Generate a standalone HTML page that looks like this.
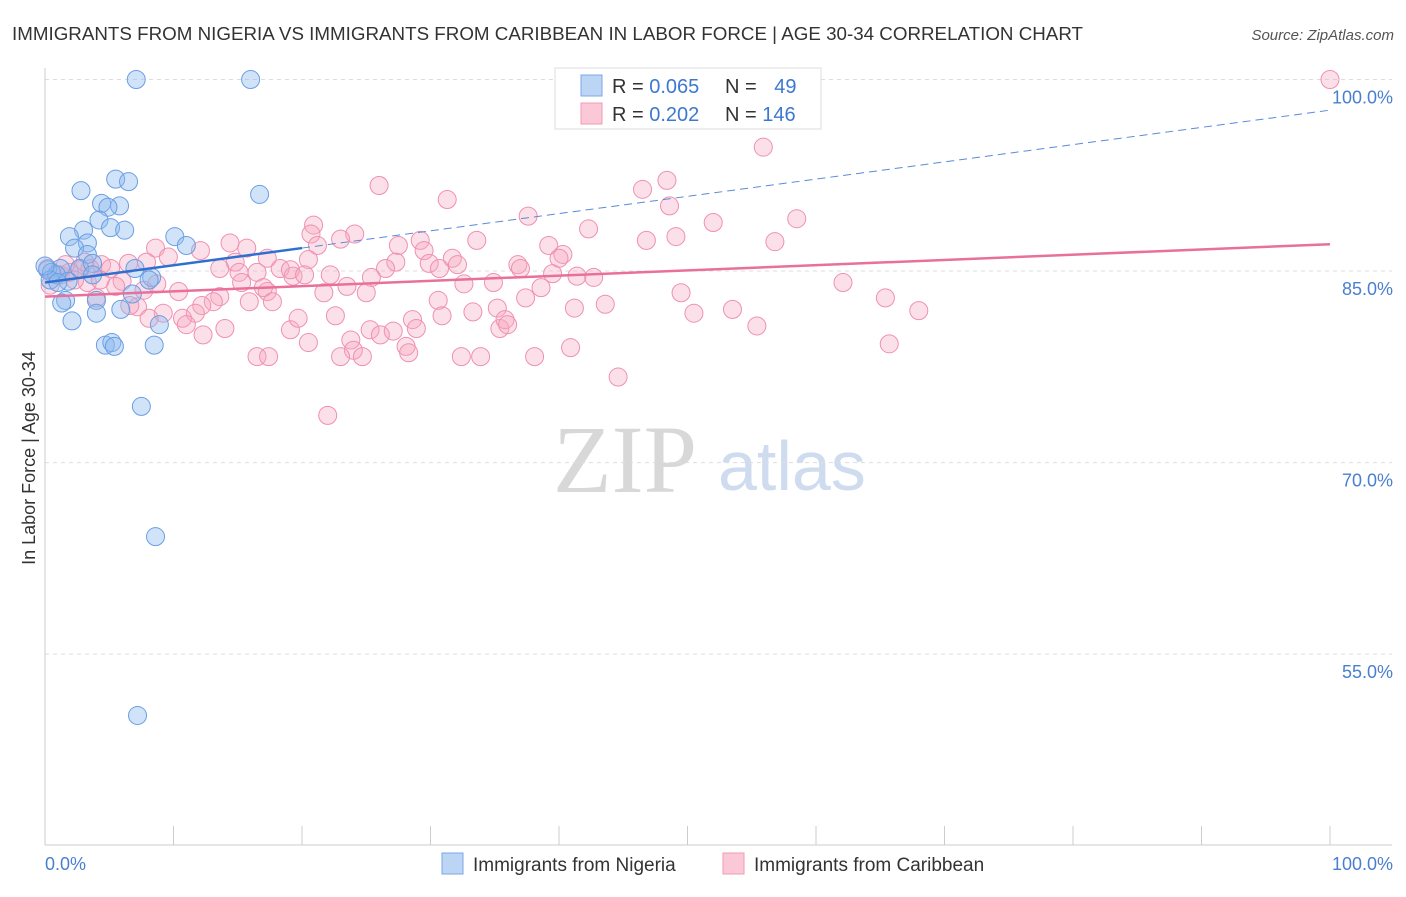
<!DOCTYPE html>
<html><head><meta charset="utf-8"><style>
body{margin:0;background:#fff;font-family:"Liberation Sans",sans-serif}
</style></head><body>
<svg id="c" width="1406" height="892" xmlns="http://www.w3.org/2000/svg" style="font-family:'Liberation Sans',sans-serif">
<text x="12" y="40" font-size="18" fill="#333" textLength="1071" lengthAdjust="spacingAndGlyphs">IMMIGRANTS FROM NIGERIA VS IMMIGRANTS FROM CARIBBEAN IN LABOR FORCE | AGE 30-34 CORRELATION CHART</text>
<text x="1394" y="40" font-size="15" fill="#555" font-style="italic" text-anchor="end">Source: ZipAtlas.com</text>
<g>
<text x="553" y="492" font-size="96" fill="#d8d8d8" font-family="Liberation Serif,serif">ZIP</text>
<text x="718" y="490" font-size="70" fill="#cfdcf0">atlas</text>
</g>
<g id="grid"></g><g id="axes"></g><g id="pink"></g><g id="blue"></g><g id="lines"></g>
<text x="35" y="458" font-size="18" fill="#333" text-anchor="middle" transform="rotate(-90 35 458)">In Labor Force | Age 30-34</text>
<text x="45" y="870" font-size="18" fill="#4a7fd0">0.0%</text>
<text x="1393" y="870" font-size="18" fill="#4a7fd0" text-anchor="end">100.0%</text>
<g>
<rect x="555" y="68" width="266" height="61" fill="#fff" stroke="#ddd"/>
<rect x="581" y="75" width="21" height="21" fill="#bcd5f5" stroke="#7aa8e8"/>
<rect x="581" y="103" width="21" height="21" fill="#fbc8d8" stroke="#f09ab5"/>
<text x="612" y="93" font-size="20" fill="#333">R = <tspan fill="#3d78d0">0.065</tspan></text>
<text x="725" y="93" font-size="20" fill="#333">N = <tspan fill="#3d78d0" dx="12">49</tspan></text>
<text x="612" y="121" font-size="20" fill="#333">R = <tspan fill="#3d78d0">0.202</tspan></text>
<text x="725" y="121" font-size="20" fill="#333">N = <tspan fill="#3d78d0">146</tspan></text>
</g>
<g>
<rect x="442" y="853" width="21" height="21" fill="#bcd5f5" stroke="#7aa8e8"/>
<text x="473" y="871" font-size="19" fill="#333">Immigrants from Nigeria</text>
<rect x="723" y="853" width="21" height="21" fill="#fbc8d8" stroke="#f09ab5"/>
<text x="754" y="871" font-size="19" fill="#333">Immigrants from Caribbean</text>
</g>
</svg>
<script>
const yTicks=[100,85,70,55];
const yTickLabels=["100.0%","85.0%","70.0%","55.0%"];
const xTicks=[0,10,20,30,40,50,60,70,80,90,100];
const blueX=[7.1,16.0,2.8,5.5,6.5,4.4,5.8,4.9,4.2,5.1,6.2,3.0,1.9,3.3,10.1,11.0,16.7,2.3,3.3,1.2,0.2,0.5,0.9,2.7,3.7,3.7,7.0,8.3,8.1,6.8,4.0,1.6,1.3,1.8,4.0,5.9,2.1,8.9,4.7,5.2,5.4,8.5,7.5,8.6,7.2,0.4,1.0,0];
const blueY=[100,100,91.3,92.2,92.0,90.3,90.1,90.0,89.0,88.4,88.2,88.2,87.7,87.2,87.7,87.0,91.0,86.8,86.3,85.2,85.1,84.9,84.7,85.2,85.6,84.7,85.2,84.5,84.3,83.2,82.7,82.7,82.5,84.2,81.7,82.0,81.1,80.8,79.2,79.4,79.1,79.2,74.4,64.2,50.2,84.3,84.1,85.4];
const pinkX=[100,55.9,26.0,31.3,46.5,48.4,48.6,37.6,52.0,58.5,20.9,20.7,24.1,23.0,21.2,29.2,27.5,33.6,42.3,46.8,49.1,56.8,39.2,40.3,14.4,15.7,8.6,12.1,9.6,17.3,14.8,20.5,29.5,31.7,29.9,27.3,26.5,25.4,22.2,23.5,25.0,13.6,15.1,16.5,18.3,19.3,19.1,20.2,21.7,17.3,17.0,15.3,13.6,13.1,12.2,11.7,10.7,11.0,9.2,7.7,10.4,8.7,7.9,6.5,4.4,5.1,6.0,5.5,3.3,4.0,7.2,8.1,12.3,14.0,15.9,17.7,19.1,19.7,16.5,17.4,20.5,22.6,23.8,24.0,23.0,24.7,25.3,26.1,27.1,28.1,28.3,28.6,28.9,30.6,30.9,32.4,33.9,33.3,35.4,35.2,35.8,36.0,36.8,37.0,39.5,41.4,42.7,38.6,37.4,41.2,43.6,40.9,38.1,44.6,22.0,32.6,34.9,30.7,32.1,49.5,50.5,53.5,55.4,62.1,65.4,65.7,68.0,40.0,2.7,1.9,1.2,2.3,3.5,0.4,4.3,3.1,0.2,1.6,6.6];
const pinkY=[100,94.7,91.7,90.6,91.4,92.1,90.1,89.3,88.8,89.1,88.6,87.9,87.9,87.5,87.0,87.4,87.0,87.4,88.3,87.4,87.7,87.3,87.0,86.3,87.2,86.8,86.8,86.6,86.1,86.0,85.7,85.9,86.6,86.0,85.6,85.7,85.2,84.5,84.7,83.8,83.3,85.2,84.9,84.9,85.2,84.6,85.1,84.7,83.3,83.4,83.7,84.1,83.0,82.6,82.3,81.7,81.3,80.8,81.7,83.5,83.4,84.0,85.7,85.6,85.5,85.2,84.2,83.8,84.1,82.9,82.2,81.3,80.0,80.5,82.6,82.6,80.4,81.3,78.3,78.3,79.4,81.5,79.6,78.8,78.3,78.3,80.4,80.0,80.3,79.1,78.6,81.2,80.5,82.7,81.5,78.3,78.3,81.8,80.5,82.1,81.2,80.8,85.5,85.2,84.8,84.6,84.5,83.7,82.9,82.1,82.4,79.0,78.3,76.7,73.7,84.0,84.1,85.2,85.5,83.3,81.7,82.0,80.7,84.1,82.9,79.3,81.9,86.0,85.1,84.9,84.7,84.3,85.2,83.9,84.3,85.7,85.2,85.5,82.3];
const blueTrend=[84.1,97.6];
const pinkTrend=[83.0,87.1];
const sx=v=>45+v*12.85, sy=v=>79.5+(100-v)*12.77;
const NS="http://www.w3.org/2000/svg";
function mk(t,a,p){const e=document.createElementNS(NS,t);for(const k in a)e.setAttribute(k,a[k]);document.getElementById(p).appendChild(e);return e;}
yTicks.forEach((t,i)=>{
 const g=mk('line',{x1:45,x2:1392,y1:sy(t),y2:sy(t),stroke:'#ddd','stroke-dasharray':'4,4'},'grid');
 
 
 const l=mk('text',{x:1393,y:sy(t)+24,'font-size':18,fill:'#4a7fd0','text-anchor':'end'},'grid');
 l.textContent=yTickLabels[i];
 
 
});
const ax=mk('line',{x1:45,x2:45,y1:68,y2:845,stroke:'#ccc'},'axes');


const bx=mk('line',{x1:45,x2:1392,y1:845,y2:845,stroke:'#ccc'},'axes');


xTicks.forEach(t=>{const k=mk('line',{x1:sx(t),x2:sx(t),y1:826,y2:845,stroke:'#ccc'},'axes');
 
 });
pinkX.forEach((x,i)=>{const c=mk('circle',{cx:sx(x),cy:sy(pinkY[i]),r:9,fill:'rgba(245,165,192,0.35)',stroke:'#f090b0','stroke-width':1},'pink');
 
 });
blueX.forEach((x,i)=>{const c=mk('circle',{cx:sx(x),cy:sy(blueY[i]),r:9,fill:'rgba(140,185,240,0.4)',stroke:'#6a9ee2','stroke-width':1},'blue');
 
 });
const pl=mk('line',{x1:sx(0),y1:sy(pinkTrend[0]),x2:sx(100),y2:sy(pinkTrend[1]),stroke:'#e8709a','stroke-width':2.5},'lines');


const bAt=v=>blueTrend[0]+(blueTrend[1]-blueTrend[0])*v/100;
const bl=mk('line',{x1:sx(0),y1:sy(bAt(0)),x2:sx(20),y2:sy(bAt(20)),stroke:'#2f6fd0','stroke-width':2.5},'lines');


const bd=mk('line',{x1:sx(20),y1:sy(bAt(20)),x2:sx(100),y2:sy(bAt(100)),stroke:'#5a8ad8','stroke-width':1,'stroke-dasharray':'8,5'},'lines');


</script>
</body></html>
